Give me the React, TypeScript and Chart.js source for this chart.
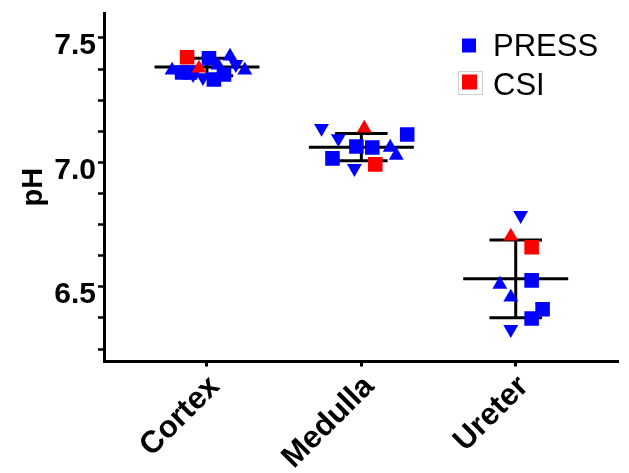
import { useEffect, useRef } from "react";
import { Chart, registerables } from "chart.js";

Chart.register(...registerables);

// Regions measured and the tick layout of the pH axis
const categories = ["Cortex", "Medulla", "Ureter"];
const yTickValues = [6.25, 6.375, 6.5, 6.625, 6.75, 6.875, 7.0, 7.125, 7.25, 7.375, 7.5];
const yLabelValues = [6.5, 7.0, 7.5];

// Individual measurements per region: pH, horizontal jitter (category units),
// marker kind and acquisition method
const cortexPH = [7.370, 7.361, 7.361, 7.422, 7.378, 7.353, 7.418, 7.390, 7.426, 7.394, 7.370, 7.341, 7.333, 7.353];
const cortexJitter = [-0.226, -0.161, -0.110, -0.129, -0.052, -0.090, 0.013, 0.071, 0.149, 0.187, 0.245, -0.026, 0.045, 0.110];
const cortexMarker = ["up", "square", "square", "square", "up", "down", "square", "up", "up", "down", "up", "down", "square", "square"];
const cortexMethod = ["PRESS", "PRESS", "PRESS", "CSI", "CSI", "PRESS", "PRESS", "PRESS", "PRESS", "PRESS", "PRESS", "PRESS", "PRESS", "PRESS"];

const medullaPH = [7.137, 7.096, 7.137, 7.064, 7.060, 7.060, 7.028, 7.112, 7.016, 6.976, 6.992];
const medullaJitter = [-0.258, -0.149, 0.019, -0.032, 0.071, 0.187, 0.226, 0.297, -0.187, -0.045, 0.090];
const medullaMarker = ["down", "down", "up", "square", "square", "up", "up", "square", "square", "down", "square"];
const medullaMethod = ["PRESS", "PRESS", "CSI", "PRESS", "PRESS", "PRESS", "PRESS", "PRESS", "PRESS", "PRESS", "CSI"];

const ureterPH = [6.787, 6.703, 6.659, 6.526, 6.510, 6.458, 6.410, 6.373, 6.329];
const ureterJitter = [0.032, -0.032, 0.103, 0.103, -0.103, -0.032, 0.174, 0.103, -0.032];
const ureterMarker = ["down", "up", "square", "square", "up", "up", "square", "square", "down"];
const ureterMethod = ["PRESS", "CSI", "CSI", "PRESS", "PRESS", "PRESS", "PRESS", "PRESS", "PRESS"];

// Mean ± SD per region
const groupMeans = [7.383, 7.061, 6.532];
const groupSD = [0.035, 0.055, 0.156];

const methods = ["PRESS", "CSI"];
const methodColors: Record<string, string> = { PRESS: "#0000FF", CSI: "#FF0000" };

const FONT = '"Liberation Sans", Arial, Helvetica, sans-serif';

const groups = [
  { ph: cortexPH, jitter: cortexJitter, marker: cortexMarker, method: cortexMethod },
  { ph: medullaPH, jitter: medullaJitter, marker: medullaMarker, method: medullaMethod },
  { ph: ureterPH, jitter: ureterJitter, marker: ureterMarker, method: ureterMethod },
];

const markerStyles: Record<string, { pointStyle: string; radius: number; rotation: number }> = {
  square: { pointStyle: "rect", radius: 10.3, rotation: 0 },
  up: { pointStyle: "triangle", radius: 8.6, rotation: 0 },
  down: { pointStyle: "triangle", radius: 8.6, rotation: 180 },
};

function buildPointDatasets() {
  const sets: any[] = [];
  for (const method of methods) {
    for (const kind of Object.keys(markerStyles)) {
      const data: { x: number; y: number }[] = [];
      groups.forEach((g, gi) => {
        g.ph.forEach((v, i) => {
          if (g.method[i] === method && g.marker[i] === kind) {
            data.push({ x: gi + g.jitter[i], y: v });
          }
        });
      });
      if (!data.length) continue;
      const st = markerStyles[kind];
      sets.push({
        label: `${method}-${kind}`,
        data,
        showLine: false,
        pointStyle: st.pointStyle,
        pointRadius: st.radius,
        pointRotation: st.rotation,
        pointBackgroundColor: methodColors[method],
        pointBorderWidth: 0,
        pointHoverRadius: st.radius,
        order: method === "CSI" ? 0 : 1,
      });
    }
  }
  return sets;
}

function buildErrorBarDatasets() {
  const sets: any[] = [];
  const seg = (pts: { x: number; y: number }[]) => ({
    data: pts,
    showLine: true,
    borderColor: "#000000",
    borderWidth: 3,
    pointRadius: 0,
    pointHoverRadius: 0,
    borderCapStyle: "butt",
    order: 10,
  });
  groupMeans.forEach((m, i) => {
    const sd = groupSD[i];
    sets.push(seg([{ x: i - 0.34, y: m }, { x: i + 0.34, y: m }]));
    sets.push(seg([{ x: i - 0.17, y: m + sd }, { x: i + 0.17, y: m + sd }]));
    sets.push(seg([{ x: i - 0.17, y: m - sd }, { x: i + 0.17, y: m - sd }]));
    sets.push(seg([{ x: i, y: m - sd }, { x: i, y: m + sd }]));
  });
  return sets;
}

const legendPlugin = {
  id: "methodLegend",
  afterDraw(chart: any) {
    const { ctx } = chart;
    ctx.save();
    ctx.fillStyle = methodColors.PRESS;
    ctx.fillRect(462, 38.5, 14, 14);
    ctx.strokeStyle = "#cfcfcf";
    ctx.lineWidth = 1;
    ctx.strokeRect(458.5, 71.5, 24, 23);
    ctx.fillStyle = methodColors.CSI;
    ctx.fillRect(462, 74.5, 15, 15);
    ctx.fillStyle = "#000000";
    ctx.font = `31px ${FONT}`;
    ctx.textAlign = "left";
    ctx.textBaseline = "alphabetic";
    ctx.fillText("PRESS", 493, 56);
    ctx.fillText("CSI", 493, 94.5);
    ctx.restore();
  },
};

export default function App() {
  const canvasRef = useRef<HTMLCanvasElement | null>(null);

  useEffect(() => {
    if (!canvasRef.current) return;
    const chart = new Chart(canvasRef.current, {
      type: "scatter",
      data: { datasets: [...buildPointDatasets(), ...buildErrorBarDatasets()] },
      options: {
        responsive: false,
        animation: false,
        events: [],
        layout: { padding: { top: 13, right: 10, left: 0, bottom: 0 } },
        plugins: { legend: { display: false }, tooltip: { enabled: false } },
        scales: {
          x: {
            type: "linear",
            min: -0.667,
            max: 2.667,
            afterBuildTicks: (scale: any) => {
              scale.ticks = categories.map((_, i) => ({ value: i }));
            },
            afterFit: (scale: any) => {
              scale.height = 111.5;
              scale.paddingLeft = 0;
              scale.paddingRight = 0;
            },
            border: { display: true, color: "#000000", width: 3 },
            grid: {
              display: true,
              drawOnChartArea: false,
              drawTicks: true,
              tickLength: 5,
              tickWidth: 3,
              tickColor: "#000000",
            },
            ticks: {
              autoSkip: false,
              minRotation: 45,
              maxRotation: 45,
              padding: 2,
              labelOffset: 8,
              color: "#000000",
              font: { family: FONT, size: 31, weight: "bold" },
              callback: (v: any) => categories[Math.round(Number(v))] ?? "",
            },
          },
          y: {
            type: "linear",
            min: 6.2,
            max: 7.6,
            afterBuildTicks: (scale: any) => {
              scale.ticks = yTickValues.map((v) => ({ value: v }));
            },
            afterFit: (scale: any) => {
              scale.width = 104;
              scale.paddingTop = 0;
              scale.paddingBottom = 0;
            },
            border: { display: true, color: "#000000", width: 3 },
            grid: {
              display: true,
              drawOnChartArea: false,
              drawTicks: true,
              tickLength: 6,
              tickWidth: 2.5,
              tickColor: "#000000",
            },
            title: {
              display: true,
              text: "pH",
              color: "#000000",
              font: { family: FONT, size: 29, weight: "bold" },
              padding: { top: 17, bottom: 0 },
            },
            ticks: {
              autoSkip: false,
              padding: 2,
              labelOffset: 8,
              color: "#000000",
              font: { family: FONT, size: 30, weight: "bold" },
              callback: (v: any) => {
                const n = Number(v);
                return yLabelValues.some((l) => Math.abs(l - n) < 1e-6) ? n.toFixed(1) : "";
              },
            },
          },
        },
      },
      plugins: [legendPlugin],
    });
    return () => chart.destroy();
  }, []);

  return (
    <div style={{ position: "fixed", left: 0, top: 0, width: 629, height: 473, background: "#ffffff" }}>
      <canvas ref={canvasRef} width={629} height={473} style={{ display: "block" }} />
    </div>
  );
}
